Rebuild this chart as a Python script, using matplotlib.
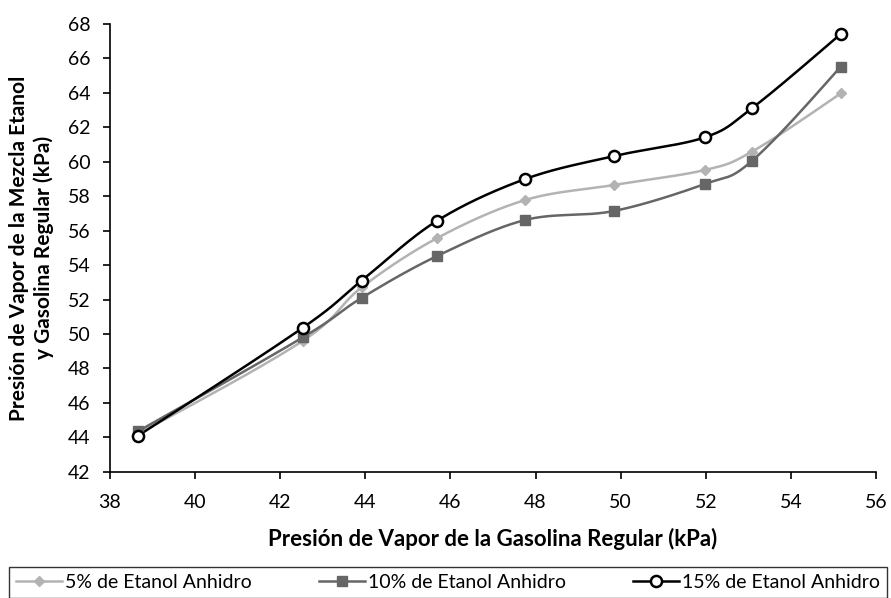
import numpy as np
import matplotlib
matplotlib.use("Agg")
import matplotlib.pyplot as plt
from matplotlib.lines import Line2D

x_gasolina = [38.66, 42.53, 43.91, 45.69, 47.76, 49.84, 51.98, 53.08, 55.17]
etanol_5 = [44.2, 49.6, 52.7, 55.57, 57.78, 58.65, 59.52, 60.58, 63.97]
etanol_10 = [44.35, 49.8, 52.09, 54.53, 56.62, 57.14, 58.71, 60.04, 65.52]
etanol_15 = [44.09, 50.36, 53.09, 56.58, 59.0, 60.33, 61.42, 63.1, 67.42]
labels = ["5% de Etanol Anhidro", "10% de Etanol Anhidro", "15% de Etanol Anhidro"]
xticks = [38, 40, 42, 44, 46, 48, 50, 52, 54, 56]
yticks = list(range(42, 70, 2))

plt.rcParams['font.family'] = ['Lato', 'DejaVu Sans']


def smooth(xs, ys, n=40):
    """Smoothed line through the points (cubic Bezier, natural ends)."""
    P = np.column_stack([np.asarray(xs, float), np.asarray(ys, float)])
    m = len(P)
    out = []
    for i in range(m - 1):
        p1, p2 = P[i], P[i + 1]
        c1 = p1 + (p2 - P[i - 1]) / 6.0 if i > 0 else None
        c2 = p2 - (P[i + 2] - p1) / 6.0 if i + 2 < m else None
        if c1 is None and c2 is None:
            c1, c2 = p1 + (p2 - p1) / 3, p2 - (p2 - p1) / 3
        elif c1 is None:
            c1 = (p1 + c2) / 2
        elif c2 is None:
            c2 = (p2 + c1) / 2
        t = np.linspace(0, 1, n)[:, None]
        seg = ((1 - t) ** 3) * p1 + 3 * ((1 - t) ** 2) * t * c1 + 3 * (1 - t) * t ** 2 * c2 + t ** 3 * p2
        out.append(seg if i == 0 else seg[1:])
    out = np.vstack(out)
    return out[:, 0], out[:, 1]


fig = plt.figure(figsize=(8.91, 5.98), dpi=100)
ax = fig.add_axes([110 / 891, 1 - 471.7 / 598, (876 - 110) / 891, (471.7 - 24) / 598])

styles = [
    dict(color='#b3b3b3', marker='D', ms=5.5, mfc='#b3b3b3', mec='#b3b3b3', mew=1),
    dict(color='#666666', marker='s', ms=7, mfc='#666666', mec='#666666', mew=1),
    dict(color='black', marker='o', ms=8, mfc='white', mec='black', mew=1.8),
]
series = [etanol_5, etanol_10, etanol_15]
handles = []
for ys, st, lab in zip(series, styles, labels):
    sx, sy = smooth(x_gasolina, ys)
    ax.plot(sx, sy, color=st['color'], lw=1.8, solid_capstyle='round', zorder=2)
    ax.plot(x_gasolina, ys, ls='none', marker=st['marker'], ms=st['ms'],
            mfc=st['mfc'], mec=st['mec'], mew=st['mew'], zorder=3)
    handles.append(Line2D([0], [0], color=st['color'], lw=1.8, marker=st['marker'],
                          ms=st['ms'], mfc=st['mfc'], mec=st['mec'], mew=st['mew']))

ax.set_xlim(38, 56)
ax.set_ylim(42, 68)
ax.set_xticks(xticks)
ax.set_yticks(yticks)
ax.spines['top'].set_visible(False)
ax.spines['right'].set_visible(False)
for s in ['left', 'bottom']:
    ax.spines[s].set_linewidth(1.2)
ax.tick_params(direction='out', length=5, width=1.2, labelsize=14)
ax.tick_params(axis='x', pad=11)
ax.tick_params(axis='y', pad=9)

ax.set_xlabel("Presión de Vapor de la Gasolina Regular (kPa)", fontsize=16,
              fontweight='bold', labelpad=12)
ax.set_ylabel("Presión de Vapor de la Mezcla Etanol\ny Gasolina Regular (kPa)", fontsize=15,
              fontweight='bold', labelpad=10, linespacing=1.25)

leg = fig.legend(handles, labels, loc='upper left', ncol=3, mode='expand',
                 bbox_to_anchor=(9 / 891, 0, 878 / 891, 1 - 567 / 598),
                 fontsize=14, frameon=True, fancybox=False, handlelength=2.4,
                 handletextpad=0.15, borderaxespad=0, borderpad=0.35)
leg.get_frame().set_edgecolor('black')
leg.get_frame().set_linewidth(1.0)

fig.savefig("out.png", dpi=100)
